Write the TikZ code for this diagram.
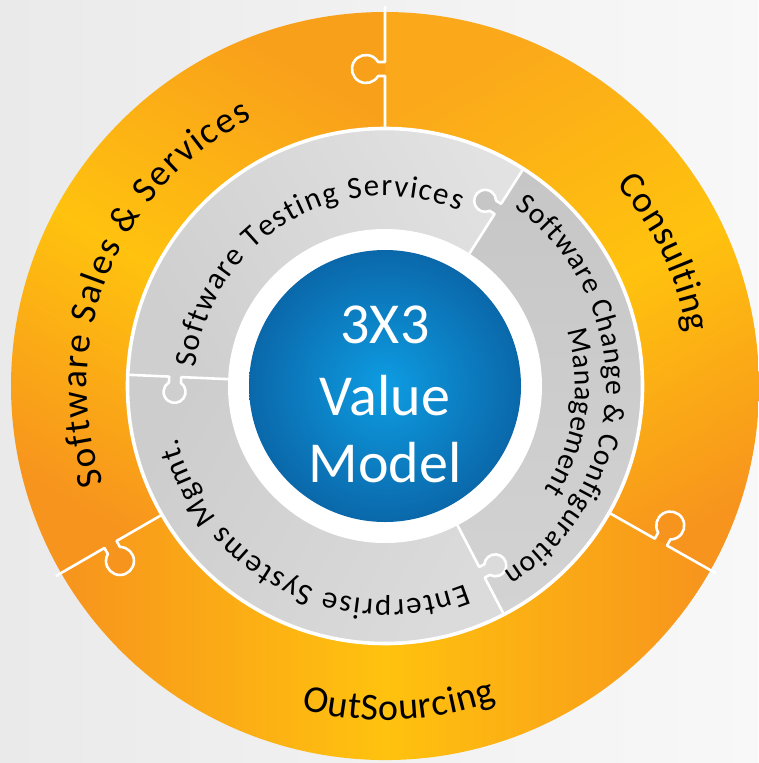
\documentclass[tikz,border=0pt]{standalone}
\usepackage{fontspec}
\setmainfont{Carlito}
\usetikzlibrary{decorations.text}
\definecolor{bgA}{HTML}{EAEAEA}
\definecolor{bgB}{HTML}{F8F8F8}
\definecolor{orD}{HTML}{F7941D}
\definecolor{orE}{HTML}{F9A01B}
\definecolor{orM}{HTML}{FBA91A}
\definecolor{orY}{HTML}{FFC20E}
\definecolor{grTd}{HTML}{CFCFCF}
\definecolor{grTl}{HTML}{E2E2E2}
\definecolor{grCd}{HTML}{C6C6C6}
\definecolor{grCl}{HTML}{D3D3D3}
\definecolor{grEd}{HTML}{CDCDCD}
\definecolor{grEl}{HTML}{DBDBDB}
\definecolor{blIn}{HTML}{0E9CE2}
\definecolor{blOut}{HTML}{0A68AA}
\tikzset{
  divider/.style={white, line width=2.6pt, line join=round},
  ringtext/.style={decorate, decoration={text along path, text align=fit to path}},
  centertext/.style={text=white, font=\fontsize{58}{70}\selectfont, anchor=base, inner sep=0pt},
}
\newcommand{\outerfont}{\fontsize{37}{44}\selectfont}
\newcommand{\outerfontb}{\fontsize{38}{45}\selectfont}
\newcommand{\innerfont}{\fontsize{31}{37}\selectfont}
\newcommand{\innerfontb}{\fontsize{29.5}{35}\selectfont}
\begin{document}
\begin{tikzpicture}[x=1pt,y=1pt]
\useasboundingbox (0,0) rectangle (758,-763);
\shade[left color=bgA, right color=bgB] (0,0) rectangle (758,-763);
\begin{scope}[shift={(385,-386)}]
  % ---- orange ring segments
  \shade[top color=orD, bottom color=orE, middle color=orY, shading angle=150]
    (90:374) arc[start angle=90, end angle=210, radius=374] -- (210:250)
    arc[start angle=210, end angle=90, radius=250] -- cycle;
  \shade[top color=orM, bottom color=orD, middle color=orY, shading angle=30]
    (-29.5:374) arc[start angle=-29.5, end angle=90, radius=374] -- (90:250)
    arc[start angle=90, end angle=-29.5, radius=250] -- cycle;
  \shade[top color=orD, bottom color=orD, middle color=orY, shading angle=90]
    (210:374) arc[start angle=210, end angle=330.5, radius=374] -- (330.5:250)
    arc[start angle=330.5, end angle=210, radius=250] -- cycle;
  % ---- gray ring segments
  \shade[top color=grTl, bottom color=grTd, shading angle=-60]
    (57.5:258) arc[start angle=57.5, end angle=177.5, radius=258] -- (177.5:150)
    arc[start angle=177.5, end angle=57.5, radius=150] -- cycle;
  \shade[top color=grCd, bottom color=grCl, shading angle=0]
    (-62.5:258) arc[start angle=-62.5, end angle=57.5, radius=258] -- (57.5:150)
    arc[start angle=57.5, end angle=-62.5, radius=150] -- cycle;
  \shade[top color=grEd, bottom color=grEl, shading angle=60]
    (177.5:258) arc[start angle=177.5, end angle=297.5, radius=258] -- (297.5:150)
    arc[start angle=297.5, end angle=177.5, radius=150] -- cycle;
  % ---- knob fills (outer)
  \fill[orE, rotate=90] (310,0) -- (310,6.9) arc[start angle=240, end angle=-60, radius=14] -- (324,0) -- cycle;
  \fill[orD, rotate=210] (310,0) -- (310,6.9) arc[start angle=240, end angle=-60, radius=14] -- (324,0) -- cycle;
  \fill[orD, rotate=-29.5] (310,0) -- (310,6.9) arc[start angle=240, end angle=-60, radius=14] -- (324,0) -- cycle;
  % ---- knob fills (gray)
  \fill[grCd, rotate=57.5] (204,0) -- (204,5.78) arc[start angle=236.9, end angle=-56.9, radius=11] -- (216,0) -- cycle;
  \fill[grTd, rotate=177.5] (204,0) -- (204,5.78) arc[start angle=236.9, end angle=-56.9, radius=11] -- (216,0) -- cycle;
  \fill[grEl, rotate=-62.5] (204,0) -- (204,5.78) arc[start angle=236.9, end angle=-56.9, radius=11] -- (216,0) -- cycle;
  % ---- white ring between gray and orange
  \draw[white, line width=3.6pt] (0,0) circle[radius=257.5];
  % ---- outer dividers
  \foreach \a in {90,210,-29.5}{
    \draw[divider, rotate=\a] (256,0) -- (310,0) -- (310,6.9)
      arc[start angle=240, end angle=-60, radius=14] -- (324,0) -- (380,0);
  }
  % ---- gray dividers
  \foreach \a in {57.5,177.5,-62.5}{
    \draw[divider, rotate=\a] (150,0) -- (204,0) -- (204,5.78)
      arc[start angle=236.9, end angle=-56.9, radius=11] -- (216,0) -- (258,0);
  }
  % ---- center disc
  \fill[white] (0,0) circle[radius=157];
  \shade[inner color=blIn, outer color=blOut] (0,0) circle[radius=136];
  \node[centertext] (n3x3) at (0,43) {3X3};
  \node[centertext] (nvalue) at (0,-29) {Value};
  \node[centertext] (nmodel) at (0,-96) {Model};
  % ---- ring texts
  \path[ringtext, decoration={text={|\outerfont|Software Sales {\&} Services}}]
    (199:298) arc[start angle=199, end angle=116.5, radius=298];
  \path[ringtext, decoration={text={|\outerfont|Consulting}}]
    (41:307) arc[start angle=41, end angle=10, radius=307];
  \path[ringtext, decoration={text={|\outerfontb|OutSourcing}}]
    (-104.5:334) arc[start angle=-104.5, end angle=-70.5, radius=334];
  \path[ringtext, decoration={text={|\innerfont|Software Testing Services}}]
    (174.5:190) arc[start angle=174.5, end angle=67, radius=190];
  \path[ringtext, decoration={text={|\innerfontb|Software Change {\&} Configuration}}]
    (54:221) arc[start angle=54, end angle=-57.5, radius=221];
  \path[ringtext, decoration={text={|\innerfontb|Management}}]
    (17:190) arc[start angle=17, end angle=-33, radius=190];
  \path[ringtext, decoration={text={|\innerfont|Enterprise Systems Mgmt.}}]
    (-68:214) arc[start angle=-68, end angle=-166, radius=214];
\end{scope}
\end{tikzpicture}
\end{document}
